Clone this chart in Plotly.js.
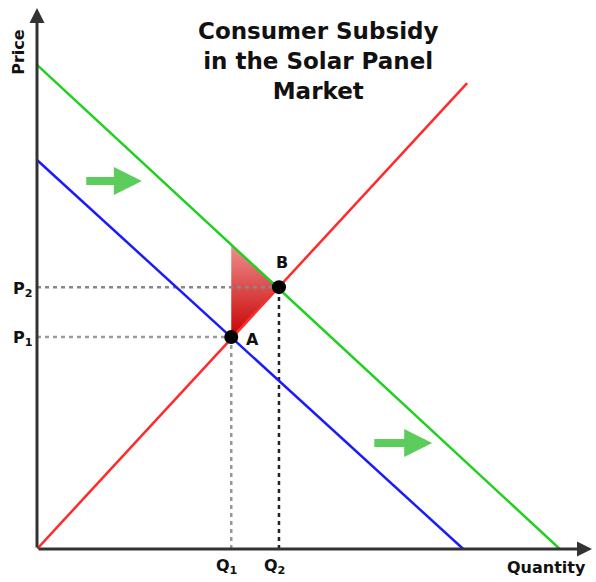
<!DOCTYPE html>
<html>
<head>
<meta charset="utf-8">
<script src="https://cdn.plot.ly/plotly-3.0.1.min.js"></script>
<style>html,body{margin:0;padding:0;background:#fff;}#chart{width:596px;height:582px;}</style>
</head>
<body>
<div id="chart"></div>
<script>
// ---- Data (arbitrary quantity / price units) ----
const supplyQ = [0, 77.5];
const supplyP = [0, 86.1];
const demand1Q = [0, 76.8];
const demand1P = [71.9, 0];
const demand2Q = [0, 94.2];
const demand2P = [89.5, 0];
const eqLabels = ['A', 'B'];
const eqQ = [35.0, 43.6];
const eqP = [39.2, 48.4];
const priceLabels = ['P<sub>1</sub>', 'P<sub>2</sub>'];
const quantityLabels = ['Q<sub>1</sub>', 'Q<sub>2</sub>'];
const shiftFromQ = [8.6, 60.5];
const shiftToQ = [18.9, 71.2];
const shiftP = [68.0, 19.6];
const titleText = 'Consumer Subsidy<br>in the Solar Panel<br>Market';

// green demand price at Q1 (top of the shaded triangle)
function onLine(xs, ys, x) {
  return ys[0] + (ys[1] - ys[0]) * (x - xs[0]) / (xs[1] - xs[0]);
}
const triTop = onLine(demand2Q, demand2P, eqQ[0]);

const FONT = 'DejaVu Sans, Arial, sans-serif';
const traces = [];

// shaded triangle
traces.push({
  x: [eqQ[0], eqQ[0], eqQ[1], eqQ[0]],
  y: [triTop, eqP[0], eqP[1], triTop],
  mode: 'lines', line: {width: 0}, fill: 'toself',
  fillcolor: '#d42020',
  fillgradient: {type: 'vertical', colorscale: [[0, '#c80000'], [1, '#ee9090']]},
  hoverinfo: 'skip'
});

// dashed guide lines
traces.push({x: [0, eqQ[0]], y: [eqP[0], eqP[0]], mode: 'lines', line: {color: '#999', width: 2.5, dash: '4px,4px'}});
traces.push({x: [0, eqQ[1]], y: [eqP[1], eqP[1]], mode: 'lines', line: {color: '#888', width: 2.5, dash: '4px,4px'}});
traces.push({x: [eqQ[0], eqQ[0]], y: [0, eqP[0]], mode: 'lines', line: {color: '#999', width: 2.5, dash: '4px,4px'}});
traces.push({x: [eqQ[1], eqQ[1]], y: [0, eqP[1]], mode: 'lines', line: {color: '#222', width: 2.5, dash: '4px,4px'}});

// curves
traces.push({x: demand1Q, y: demand1P, mode: 'lines', line: {color: '#1a1aff', width: 2.5}});
traces.push({x: demand2Q, y: demand2P, mode: 'lines', line: {color: '#1fd11f', width: 2.5}});
traces.push({x: supplyQ, y: supplyP, mode: 'lines', line: {color: '#ff2a2a', width: 2.5}});

// equilibrium points
traces.push({x: eqQ, y: eqP, mode: 'markers', marker: {color: '#000', size: 14}});

const ann = [];
// axes with arrows
ann.push({x: 0, y: 100, ax: 0, ay: 0, xref: 'x', yref: 'y', axref: 'x', ayref: 'y',
  showarrow: true, arrowhead: 2, arrowsize: 1, arrowwidth: 3, arrowcolor: '#333', text: ''});
ann.push({x: 100, y: 0, ax: 0, ay: 0, xref: 'x', yref: 'y', axref: 'x', ayref: 'y',
  showarrow: true, arrowhead: 2, arrowsize: 1, arrowwidth: 3, arrowcolor: '#333', text: ''});

// shift arrows
for (let i = 0; i < shiftFromQ.length; i++) {
  ann.push({x: shiftToQ[i], y: shiftP[i], ax: shiftFromQ[i], ay: shiftP[i],
    xref: 'x', yref: 'y', axref: 'x', ayref: 'y', showarrow: true,
    arrowhead: 2, arrowsize: 0.7, arrowwidth: 8, arrowcolor: '#5ccc5c', text: ''});
}

// title
ann.push({text: '<b>' + titleText + '</b>', xref: 'paper', yref: 'paper', x: 0.506, y: 0.985,
  xanchor: 'center', yanchor: 'top', showarrow: false, font: {family: FONT, size: 23, color: '#111'}});

// axis titles
ann.push({text: '<b>Price</b>', xref: 'paper', yref: 'paper', x: 0, y: 0.919, xshift: -18,
  xanchor: 'center', yanchor: 'middle', textangle: -90, showarrow: false, font: {family: FONT, size: 16, color: '#111'}});
ann.push({text: '<b>Quantity</b>', xref: 'paper', yref: 'paper', x: 1, y: 0, xshift: -4, yshift: -7,
  xanchor: 'right', yanchor: 'top', showarrow: false, font: {family: FONT, size: 16, color: '#111'}});

// price / quantity labels
for (let i = 0; i < eqP.length; i++) {
  ann.push({text: '<b>' + priceLabels[i] + '</b>', xref: 'paper', yref: 'y', x: 0, y: eqP[i], xshift: -2, yshift: -2,
    xanchor: 'right', yanchor: 'middle', showarrow: false, font: {family: FONT, size: 16, color: '#111'}});
  ann.push({text: '<b>' + quantityLabels[i] + '</b>', xref: 'x', yref: 'paper', x: eqQ[i], y: 0, xshift: -4, yshift: -5,
    xanchor: 'center', yanchor: 'top', showarrow: false, font: {family: FONT, size: 16, color: '#111'}});
}
// point labels
ann.push({text: '<b>' + eqLabels[0] + '</b>', xref: 'x', yref: 'y', x: eqQ[0], y: eqP[0], xshift: 21, yshift: -3,
  showarrow: false, font: {family: FONT, size: 16, color: '#111'}});
ann.push({text: '<b>' + eqLabels[1] + '</b>', xref: 'x', yref: 'y', x: eqQ[1], y: eqP[1], xshift: 3, yshift: 25,
  showarrow: false, font: {family: FONT, size: 16, color: '#111'}});

const hidden = {range: [0, 100], showgrid: false, zeroline: false, showticklabels: false, showline: false, ticks: '', fixedrange: true};
const layout = {
  width: 596, height: 582,
  margin: {l: 37, r: 4, t: 8, b: 33},
  paper_bgcolor: '#fff', plot_bgcolor: '#fff',
  showlegend: false,
  xaxis: Object.assign({}, hidden),
  yaxis: Object.assign({}, hidden),
  annotations: ann
};
Plotly.newPlot('chart', traces, layout, {displayModeBar: false, staticPlot: true});
</script>
</body>
</html>
